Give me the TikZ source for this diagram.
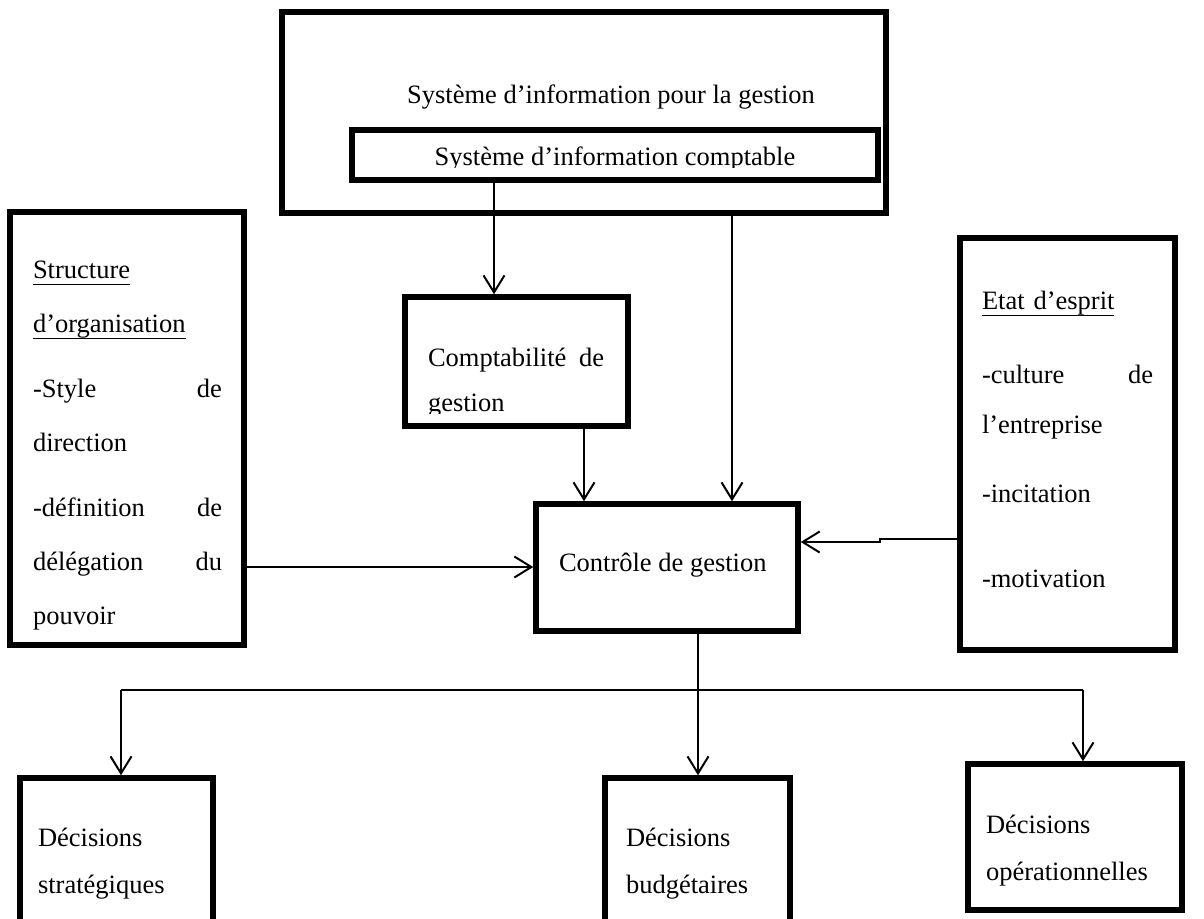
\documentclass[tikz,border=0pt]{standalone}
\usepackage{fontspec}
\setmainfont{Liberation Serif}
\usetikzlibrary{arrows.meta}
\newsavebox\myulbox
\newcommand\myul[1]{\leavevmode\sbox\myulbox{#1}\rlap{\rule[-7pt]{\wd\myulbox}{1.5pt}}\usebox\myulbox}
\begin{document}
\begin{tikzpicture}[x=1pt,y=-1pt,
  box/.style={draw, line width=5.5pt, rectangle, inner sep=0pt},
  conn/.style={line width=2pt},
  arr/.style={line width=2pt, -{Straight Barb[length=17pt,width=21pt]}},
  txt/.style={font=\fontsize{26.5}{54}\selectfont, inner sep=0pt, outer sep=0pt, align=left}
]
\useasboundingbox (0,0) rectangle (1204,918);
\clip (0,0) rectangle (1204,918);

% boxes
\node[box, minimum width=604pt, minimum height=201pt] (sig) at (584,112.5) {};
\node[box, minimum width=526pt, minimum height=50pt] (sic) at (615,155) {};
\node[box, minimum width=223pt, minimum height=129pt] (cg) at (516.5,361.5) {};
\node[box, minimum width=262pt, minimum height=127pt] (ctrl) at (667,567.5) {};
\node[box, minimum width=234pt, minimum height=433pt] (struct) at (127,428.5) {};
\node[box, minimum width=215pt, minimum height=412pt] (etat) at (1067.5,444) {};
\node[box, minimum width=193pt, minimum height=162pt] (strat) at (116.5,859) {};
\node[box, minimum width=185pt, minimum height=162pt] (budg) at (697.5,859) {};
\node[box, minimum width=214pt, minimum height=146pt] (oper) at (1075,837) {};

% texts
\node[txt, anchor=base] (tsig) at (611,103) {Système d’information pour la gestion};
\begin{scope}
  \clip (352,130) rectangle (878,167);
  \node[txt, anchor=base] (tsic) at (615,165) {Système d’information comptable};
\end{scope}
\begin{scope}
  \clip (405,297) rectangle (628,413);
  \node[txt, anchor=base west, text width=176pt] (tcg) at (428,366) {Comptabilité\hfill de\\[-9pt]gestion};
\end{scope}
\node[txt, anchor=base west] (tctrl) at (559,571) {Contrôle de gestion};
\node[txt, anchor=base west, text width=189pt] (tstruct) at (33,278)
  {\myul{Structure}\\\myul{d’organisation}\\[11pt]-Style\hfill de\\direction\\[11pt]-définition\hfill de\\délégation\hfill du\\pouvoir};
\node[txt, font=\fontsize{26.5}{50}\selectfont, anchor=base west, text width=171pt] (tetat) at (982,309)
  {\myul{Etat d’esprit}\\[24pt]-culture\hfill de\\l’entreprise\\[19pt]-incitation\\[35pt]-motivation};
\node[txt, font=\fontsize{26.5}{47}\selectfont, anchor=base west, text width=170pt] (tstrat) at (38,846) {Décisions\\stratégiques};
\node[txt, font=\fontsize{26.5}{47}\selectfont, anchor=base west, text width=160pt] (tbudg) at (626,846) {Décisions\\budgétaires};
\node[txt, font=\fontsize{26.5}{47}\selectfont, anchor=base west, text width=190pt] (toper) at (986,833) {Décisions\\opérationnelles};

% connector coordinates
\coordinate (xa) at (494,0);
\coordinate (xb) at (732,0);
\coordinate (xc) at (584,0);
\coordinate (yl) at (0,567);
\coordinate (yr) at (0,539);
\coordinate (kink1) at (880,539);
\coordinate (kink2) at (880,542);
\coordinate (busL) at (121,690);
\coordinate (busM) at (698,690);
\coordinate (busR) at (1083,690);

% connectors
\draw[arr] (sic.south -| xa) -- (cg.north -| xa);
\draw[arr] (sig.south -| xb) -- (ctrl.north -| xb);
\draw[arr] (cg.south -| xc) -- (ctrl.north -| xc);
\draw[arr] (struct.east |- yl) -- (ctrl.west |- yl);
\draw[arr] (etat.west |- yr) -- (kink1) -- (kink2) -- (ctrl.east |- kink2);
\draw[conn] (ctrl.south -| busM) -- (busM);
\draw[conn] (busL) -- (busR);
\draw[arr] (busL) -- (strat.north -| busL);
\draw[arr] (busM) -- (budg.north -| busM);
\draw[arr] (busR) -- (oper.north -| busR);
\end{tikzpicture}
\end{document}
